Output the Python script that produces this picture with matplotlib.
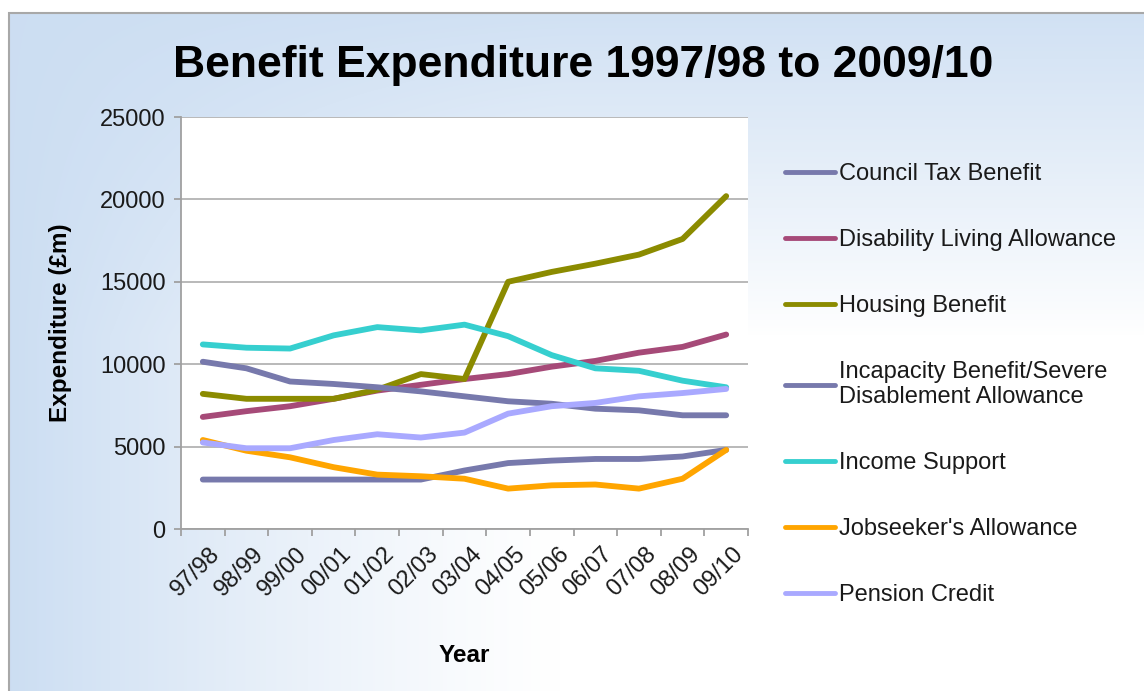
import matplotlib
matplotlib.use("Agg")
import matplotlib.pyplot as plt
import matplotlib.transforms as mtransforms
from matplotlib.patches import Rectangle
import numpy as np

plt.rcParams['font.family'] = ['Liberation Sans', 'DejaVu Sans']

years = ["97/98", "98/99", "99/00", "00/01", "01/02", "02/03", "03/04",
         "04/05", "05/06", "06/07", "07/08", "08/09", "09/10"]

council_tax = [3000, 3000, 3000, 3000, 3000, 3000, 3550, 4000, 4150, 4250, 4250, 4400, 4800]
disability_living = [6800, 7150, 7450, 7900, 8400, 8750, 9100, 9400, 9850, 10200, 10700, 11050, 11800]
housing = [8200, 7900, 7900, 7900, 8450, 9400, 9100, 15000, 15600, 16100, 16650, 17600, 20200]
incapacity = [10150, 9750, 8950, 8800, 8600, 8350, 8050, 7750, 7600, 7300, 7200, 6900, 6900]
income_support = [11200, 11000, 10950, 11750, 12250, 12050, 12400, 11700, 10550, 9750, 9600, 9000, 8600]
jobseekers = [5400, 4750, 4350, 3750, 3300, 3200, 3050, 2450, 2650, 2700, 2450, 3050, 4800]
pension_credit = [5250, 4900, 4900, 5400, 5750, 5550, 5850, 7000, 7450, 7650, 8050, 8250, 8500]

series_names = ["Council Tax Benefit", "Disability Living Allowance", "Housing Benefit",
                "Incapacity Benefit/Severe\nDisablement Allowance", "Income Support",
                "Jobseeker's Allowance", "Pension Credit"]
series_values = [council_tax, disability_living, housing, incapacity,
                 income_support, jobseekers, pension_credit]
series_colors = ["#7779AC", "#A64A78", "#8B8B00", "#7779AC", "#36CFCF", "#FFA500", "#A9A9FF"]

W, H = 1144, 691
fig = plt.figure(figsize=(W / 100, H / 100), dpi=100)
fig.patch.set_facecolor("white")

# slide-like gradient background (blue at top and left, white towards bottom right)
bg = fig.add_axes([9 / W, 0, 1 - 9 / W, (H - 13) / H], zorder=0)
yy, xx = np.mgrid[13:H, 9:W].astype(float)
t_top = np.clip((335 - yy) / 322, 0, 1) ** 0.9
t_left = np.clip((560 - xx) / 551, 0, 1) ** 1.2
t = 1 - (1 - t_top * 0.9) * (1 - t_left)
blue = np.array([0.80, 0.87, 0.95])
img = 1 - t[..., None] * (1 - blue)
bg.imshow(img, aspect="auto", extent=[0, 1, 0, 1], origin="upper")
bg.set_axis_off()
fig.patches.append(Rectangle((9 / W, -0.01), 1.0, (H - 13) / H + 0.01, transform=fig.transFigure,
                             fill=False, edgecolor="#a8a8a8", linewidth=1.5, zorder=1))

ax = fig.add_axes([181 / W, 1 - 529 / H, (748 - 181) / W, (529 - 117) / H], zorder=2)
ax.set_facecolor("white")
x = np.arange(len(years))
for name, vals, col in zip(series_names, series_values, series_colors):
    ax.plot(x, vals, color=col, linewidth=4.2, label=name,
            solid_capstyle="round", solid_joinstyle="round")

ax.set_xlim(-0.5, len(years) - 0.5)
ax.set_ylim(0, 25000)
ax.set_yticks(np.arange(0, 25001, 5000))
ax.grid(axis="y", color="#a6a6a6", linewidth=1.1)
ax.set_axisbelow(True)
for side in ["top", "right"]:
    ax.spines[side].set_visible(False)
for side in ["left", "bottom"]:
    ax.spines[side].set_color("#a0a0a0")
    ax.spines[side].set_linewidth(1.3)

ax.set_xticks(x)
ax.set_xticks(np.arange(-0.5, len(years), 1.0), minor=True)
ax.tick_params(axis="x", which="major", length=0, pad=10)
ax.tick_params(axis="x", which="minor", length=5, width=1.3, color="#a0a0a0", direction="out")
ax.tick_params(axis="y", length=5, width=1.3, color="#a0a0a0", direction="out", pad=6,
               labelsize=17, labelcolor="#1a1a1a")
ax.set_xticklabels(years, rotation=45, ha="right", va="top", rotation_mode="anchor",
                   fontsize=17, color="#1a1a1a")
shift = mtransforms.ScaledTranslation(6 / 100, 0, fig.dpi_scale_trans)
for lbl in ax.get_xticklabels():
    lbl.set_transform(lbl.get_transform() + shift)

ax.set_ylabel("Expenditure (£m)", fontsize=17.5, fontweight="bold")
ax.yaxis.set_label_coords(-0.212, 0.5)
ax.yaxis.label.set_verticalalignment("center")
ax.set_xlabel("Year", fontsize=17.5, fontweight="bold")
ax.xaxis.set_label_coords(0.5, -0.306)
ax.xaxis.label.set_verticalalignment("center")

fig.text(583 / W, 1 - 65 / H, "Benefit Expenditure 1997/98 to 2009/10",
         fontsize=32, fontweight="bold", ha="center", va="center", zorder=3)

leg = ax.legend(loc="upper left", bbox_to_anchor=(785 / W, 1 - 163 / H),
                bbox_transform=fig.transFigure, frameon=False, fontsize=17,
                handlelength=2.1, handletextpad=0.2, labelspacing=1.86, borderpad=0,
                borderaxespad=0)
for line in leg.get_lines():
    line.set_linewidth(3.5)
for txt in leg.get_texts():
    txt.set_color("#1a1a1a")

fig.savefig("out.png", dpi=100)
